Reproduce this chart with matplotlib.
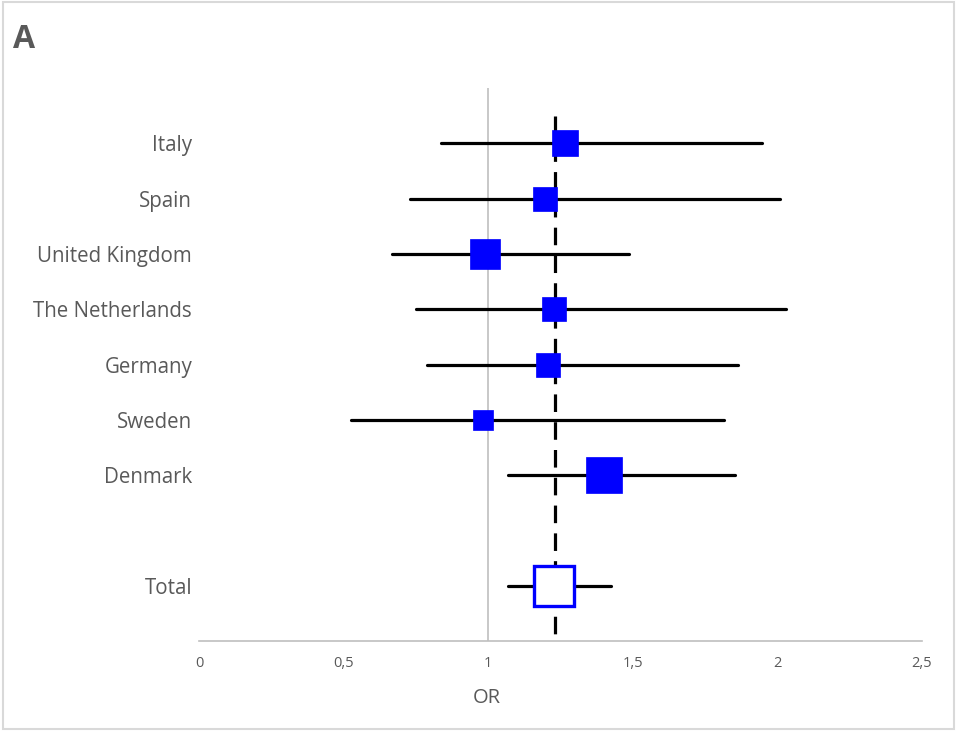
import matplotlib
matplotlib.use("Agg")
import matplotlib.pyplot as plt
from matplotlib.patches import Rectangle

# data
countries = ["Italy", "Spain", "United Kingdom", "The Netherlands", "Germany",
             "Sweden", "Denmark"]
odds = [1.267, 1.197, 0.988, 1.228, 1.208, 0.982, 1.399]
lo = [0.836, 0.728, 0.668, 0.749, 0.788, 0.527, 1.067]
hi = [1.948, 2.008, 1.487, 2.029, 1.863, 1.817, 1.855]
weight = [18.7, 17.3, 21.1, 17.3, 17.3, 14.6, 26.4]   # square side, points

total_label = "Total"
total_or = 1.229
total_lo = 1.067
total_hi = 1.426
pooled = 1.232

xticks = [0, 0.5, 1, 1.5, 2, 2.5]
xticklabels = ["0", "0,5", "1", "1,5", "2", "2,5"]

plt.rcParams['font.family'] = ['Open Sans', 'DejaVu Sans']
grey = '#595959'

fig = plt.figure(figsize=(9.57, 7.31), dpi=100)
ax = fig.add_axes([199/957, 1-641/731, (922-199)/957, (641-88)/731])

ypos = list(range(len(countries)))
ytotal = len(countries) + 1

# reference lines
ax.axvline(1, color='#bfbfbf', lw=1.2, zorder=1)
ax.plot([pooled, pooled], [-0.5, ytotal + 1], color='black', lw=2.3,
        linestyle=(0, (5.5, 3.2)), zorder=2)

for y, o, l, h, s in zip(ypos, odds, lo, hi, weight):
    ax.plot([l, h], [y, y], color='black', lw=2.3, solid_capstyle='round', zorder=3)
    ax.plot(o, y, marker='s', ms=s, color='#0000ff', mec='#0000ff', mew=0.5,
            zorder=4, linestyle='none')

ax.plot([total_lo, total_hi], [ytotal, ytotal], color='black', lw=2.3,
        solid_capstyle='round', zorder=3)
ax.plot(total_or, ytotal, marker='s', ms=29.3, mfc='white', mec='#0000ff',
        mew=2.4, zorder=4, linestyle='none')

ax.set_xlim(0, 2.5)
ax.set_ylim(ytotal + 1, -1)
ax.set_yticks(ypos + [ytotal])
ax.set_yticklabels(countries + [total_label], fontsize=14.8, color=grey)
ax.set_xticks(xticks)
ax.set_xticklabels(xticklabels, fontsize=10.5, color=grey)
ax.tick_params(axis='both', length=0)
ax.tick_params(axis='y', pad=5)
ax.tick_params(axis='x', pad=11)
for side in ['top', 'right', 'left']:
    ax.spines[side].set_visible(False)
ax.spines['bottom'].set_color('#bfbfbf')
ax.spines['bottom'].set_linewidth(1.2)
ax.set_xlabel("OR", fontsize=14.5, color=grey, labelpad=10)
ax.xaxis.set_label_coords((487 - 199) / 723, -0.085)

fig.text(13/957, 1-39/731, "A", fontsize=23, fontweight='bold', color=grey,
         va='center', ha='left')
fig.patches.append(Rectangle((0.003, 0.003), 0.994, 0.994, transform=fig.transFigure,
                             fill=False, edgecolor='#d9d9d9', lw=1.5))

fig.savefig("out.png", dpi=100)
